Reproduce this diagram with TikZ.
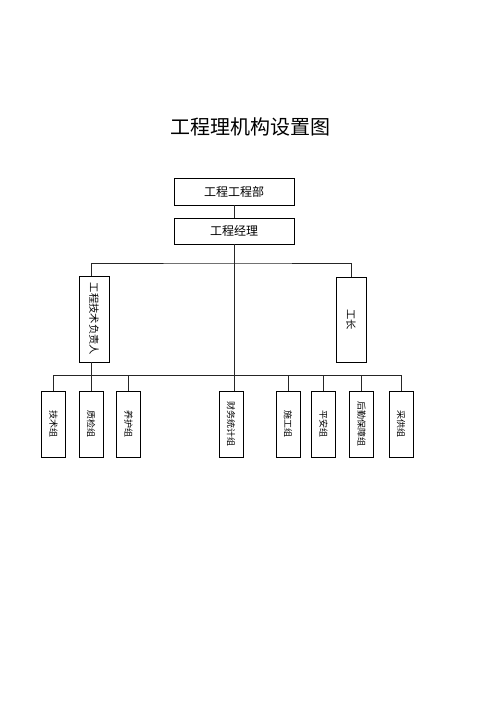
\documentclass[tikz,border=0pt]{standalone}
\usepackage{fontspec}
\usepackage{graphicx}
\newfontfamily\cjk{Noto Sans CJK SC}
\usetikzlibrary{calc}

\begin{document}
\begin{tikzpicture}[
            x=1pt, y=-1pt, font=\cjk,
            box/.style={draw, line width=0.7pt, inner sep=0pt},
            wide/.style={box, minimum width=120pt, minimum height=26pt, font=\cjk\fontsize{12}{12}\selectfont},
            tall/.style={box, minimum width=30pt, minimum height=86pt, font=\cjk\fontsize{10.3}{10}\selectfont},
            group/.style={box, minimum width=24pt, minimum height=66pt, font=\cjk\fontsize{9}{9}\selectfont},
            link/.style={line width=0.7pt, black!85}
        ]
            % Marco de la página
            \useasboundingbox[fill=white] (0,0) rectangle (500,708);

            % Título
            \node (title) at (250,127) {\fontsize{20}{20}\selectfont 工程理机构设置图};

            % Dirección
            \node[wide, minimum height=27pt] (jb) at (234,191.5) {工程工程部};
            \node[wide] (jl) at (234,231) {工程经理};

            % Responsables
            \node[tall] (fz) at (94,319) {\rotatebox{-90}{工程技术负责人}};
            \node[tall, minimum height=85pt] (gz) at (351,319.5) {\rotatebox{-90}{工长}};

            % Grupos
            \node[group] (js) at (53.5,424) {\rotatebox{-90}{技术组}};
            \node[group] (zj) at (91,424) {\rotatebox{-90}{质检组}};
            \node[group] (yh) at (128.5,424) {\rotatebox{-90}{养护组}};
            \node[group] (cw) at (231,424) {\rotatebox{-90}{财务统计组}};
            \node[group] (sg) at (288,424) {\rotatebox{-90}{施工组}};
            \node[group] (pa) at (323.5,424) {\rotatebox{-90}{平安组}};
            \node[group] (hq) at (361.5,424) {\rotatebox{-90}{后勤保障组}};
            \node[group] (cg) at (401,424) {\rotatebox{-90}{采供组}};

            % Barras de enlace
            \coordinate (busA) at (234,263);
            \coordinate (busB) at (234,375);

            % Conectores
            \draw[link] (jb.south) -- (jl.north);
            \draw[link] (jl.south) -- (jl.south |- cw.north);
            \draw[link] (zj.north |- fz.north) |- (busA) -| (gz.north);
            \draw[link] (zj.north |- fz.south) -- (zj.north);
            \draw[link] (js.north |- busB) -- (cg.north |- busB);
            \foreach \g in {js,yh,sg,pa,hq,cg}
                \draw[link] (\g.north |- busB) -- (\g.north);

        \end{tikzpicture}
\end{document}
